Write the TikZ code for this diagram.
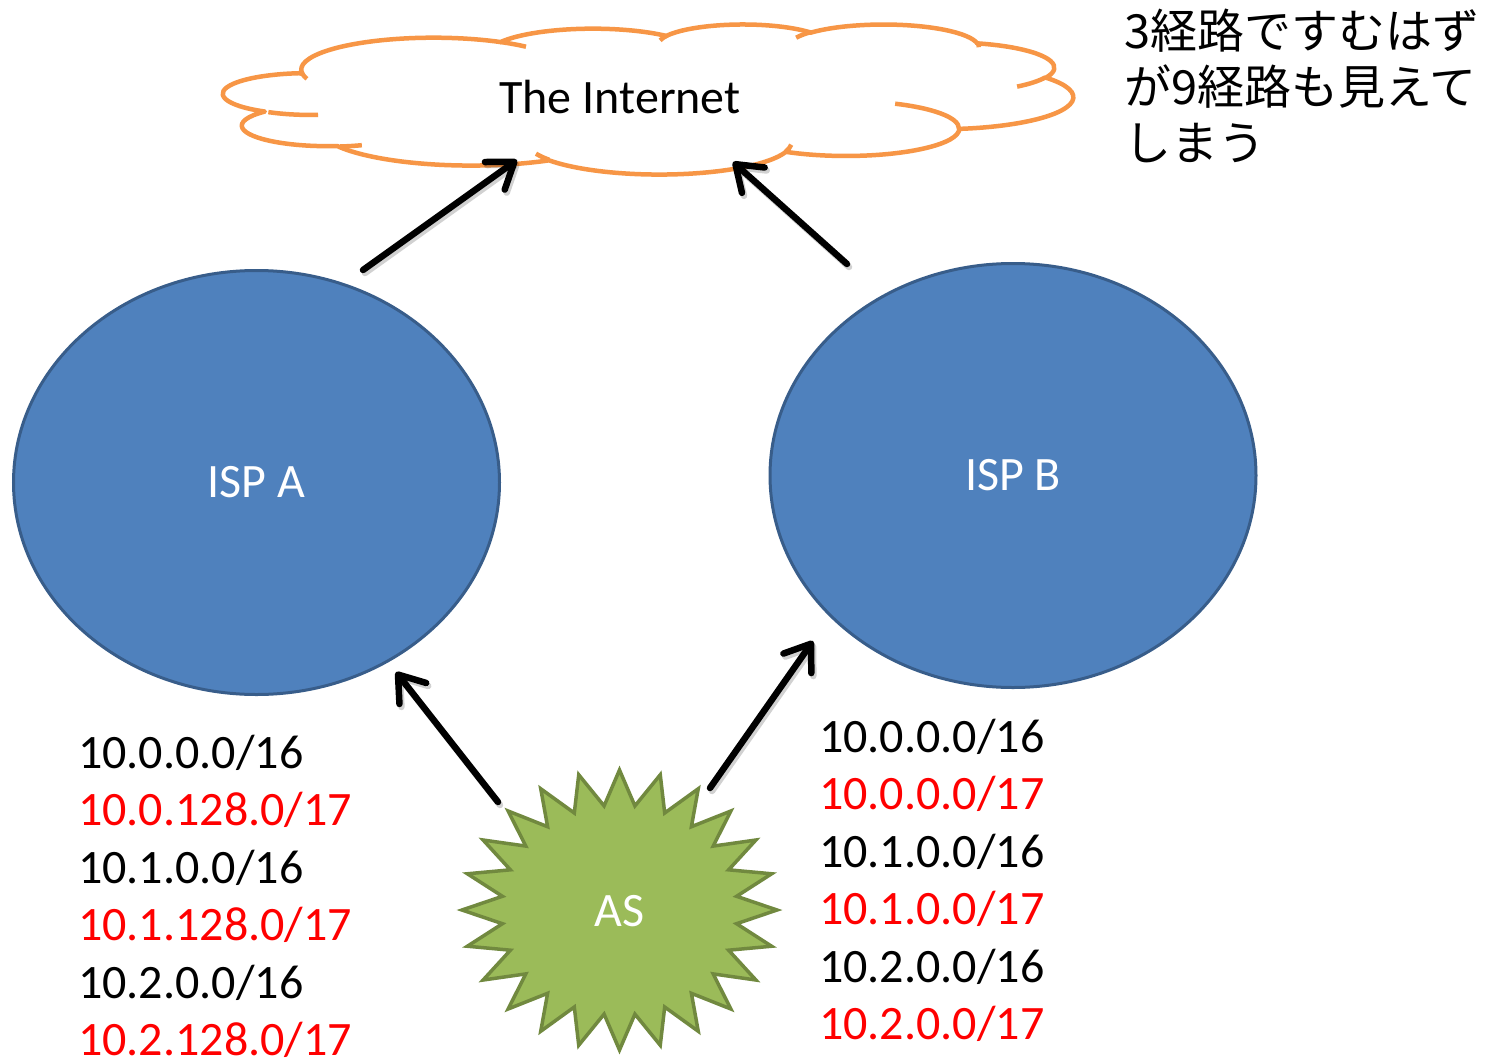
\documentclass[tikz,border=0pt]{standalone}
\usepackage{fontspec}
\setmainfont{Carlito}
\newfontfamily\jpfont{Noto Sans CJK JP}
\usetikzlibrary{arrows.meta,shapes.geometric}
\definecolor{cloudorange}{HTML}{F79646}
\definecolor{ispfill}{HTML}{4F81BD}
\definecolor{ispline}{HTML}{385D8A}
\definecolor{asfill}{HTML}{9BBB59}
\definecolor{asline}{HTML}{71893F}
\definecolor{routered}{HTML}{FF0000}
\newcommand\cldarc[4]{%
  \pgfmathsetmacro\cldtA{atan2((#1)*sin(#3),(#2)*cos(#3))}%
  \pgfmathsetmacro\cldtB{atan2((#1)*sin((#3)+(#4)),(#2)*cos((#3)+(#4)))}%
  \ifdim #4pt>0pt
    \ifdim\cldtB pt<\cldtA pt \pgfmathsetmacro\cldtB{\cldtB+360}\fi
  \else
    \ifdim\cldtB pt>\cldtA pt \pgfmathsetmacro\cldtB{\cldtB-360}\fi
  \fi
  \xdef\cldpath{\cldpath arc[start angle=\cldtA, end angle=\cldtB, x radius=#1, y radius=#2]}%
}
\newcommand\cldin[6]{%
  \pgfmathsetmacro\cldtA{atan2((#3)*sin(#5),(#4)*cos(#5))}%
  \pgfmathsetmacro\cldtB{atan2((#3)*sin((#5)+(#6)),(#4)*cos((#5)+(#6)))}%
  \ifdim\cldtB pt<\cldtA pt \pgfmathsetmacro\cldtB{\cldtB+360}\fi
  \xdef\cldinpath{\cldinpath (#1,#2) arc[start angle=\cldtA, end angle=\cldtB, x radius=#3, y radius=#4]}%
}
\tikzset{
  cloudline/.style={draw=cloudorange, line width=4.5pt, line join=round},
  isp/.style={ellipse, draw=ispline, fill=ispfill, line width=3pt,
    minimum width=486pt, minimum height=424pt, inner sep=0pt, text=white,
    font=\fontsize{48}{57}\selectfont},
  asstar/.style={draw=asline, fill=asfill, line width=3.5pt, line join=miter},
  label/.style={inner sep=0pt, font=\fontsize{48}{57}\selectfont},
  route/.style={anchor=base west, inner sep=0pt, font=\fontsize{48}{57}\selectfont},
  arr/.style={line width=6.5pt, line cap=round,
    -{Straight Barb[length=24pt, width=34pt, line cap=round, line join=round]}},
  arrshadow/.style={arr, draw=black, opacity=0.18},
}
\begin{document}
\begin{tikzpicture}[x=1pt, y=-1pt]
\useasboundingbox[fill=white] (0,0) rectangle (1489,1060);
% cloud
\begin{scope}[shift={(226pt,-24pt)}, x=1.96065pt, y=-0.347222pt]
  \gdef\cldpath{}
  \cldarc{67.53}{91.90}{-190.48748}{123.78053}
  \cldarc{53.33}{72.67}{-144.10238}{89.94523}
  \cldarc{43.65}{59.45}{-145.80792}{99.72302}
  \cldarc{48.57}{65.95}{-130.98607}{117.24173}
  \cldarc{53.33}{72.73}{-78.70888}{109.02692}
  \cldarc{67.75}{92.20}{-46.26725}{130.269}
  \cldarc{57.85}{78.67}{0.62502}{114.03333}
  \cldarc{67.52}{92.15}{22.4516}{115.17255}
  \cldarc{77.20}{105.43}{66.24263}{78.03695}
  \cldarc{43.60}{59.18}{-274.94208}{146.73557}
  \cldarc{43.45}{59.45}{-246.8285}{152.51885}
  \edef\cldtmp{\noexpand\draw[cloudline, fill=white] (39.00,143.70) \cldpath -- cycle;}
  \cldtmp
  \gdef\cldinpath{}
  \cldin{46.93}{261.77}{43.45}{59.45}{86.742}{26.4295}
  \cldin{69.28}{348.99}{43.60}{59.18}{73.61047}{11.44747}
  \cldin{164.78}{390.90}{67.52}{92.15}{137.62415}{14.0811}
  \cldin{288.27}{347.51}{67.52}{92.15}{6.45327}{15.99835}
  \cldin{341.29}{229.54}{57.85}{78.67}{-70.29235}{70.91737}
  \cldin{417.98}{153.54}{53.33}{72.73}{30.31803}{27.7515}
  \cldin{383.24}{54.26}{48.57}{65.95}{-13.74433}{14.8589}
  \cldin{290.78}{39.52}{48.57}{65.95}{-149.18145}{18.19537}
  \cldin{221.41}{47.20}{43.65}{59.45}{-163.49427}{17.84947}
  \cldin{140.00}{51.92}{67.53}{91.90}{-66.70695}{12.31935}
  \cldin{41.27}{157.89}{67.53}{91.90}{157.65435}{11.85817}
  \edef\cldtmp{\noexpand\draw[cloudline, line cap=butt] \cldinpath;}
  \cldtmp
\end{scope}
\node[label] (inet) at (620,97) {The Internet};

% ISPs
\node[isp] (ispA) at (256.5,482.5) {ISP A};
\node[isp] (ispB) at (1013,475.5) {ISP B};

% AS star
\begin{scope}[shift={(619.5pt,-910pt)}]
  \draw[asstar] (90:157.5 and 140)
    \foreach \i in {0,...,23}{ -- ({97.5+15*\i}:118.1 and 105) -- ({105+15*\i}:157.5 and 140)} -- cycle;
\end{scope}
\node[label, text=white] (as) at (619.5,911) {AS};

% arrows
\coordinate (aAout) at (363,270);
\coordinate (aAin) at (517,160);
\coordinate (aBout) at (847,264);
\coordinate (aBin) at (733,162);
\coordinate (asA) at (498,802);
\coordinate (ispAin) at (396,672);
\coordinate (asB) at (710,788);
\coordinate (ispBin) at (813,641);
\begin{scope}[transform canvas={shift={(2pt,-3pt)}}]
  \draw[arrshadow] (aAout) -- (aAin);
  \draw[arrshadow] (aBout) -- (aBin);
  \draw[arrshadow] (asA) -- (ispAin);
  \draw[arrshadow] (asB) -- (ispBin);
\end{scope}
\draw[arr] (aAout) -- (aAin);
\draw[arr] (aBout) -- (aBin);
\draw[arr] (asA) -- (ispAin);
\draw[arr] (asB) -- (ispBin);

% route lists
\node[route] (l1) at (78,768) {10.0.0.0/16};
\node[route, text=routered] (l2) at (78,825.5) {10.0.128.0/17};
\node[route] (l3) at (78,883) {10.1.0.0/16};
\node[route, text=routered] (l4) at (78,940.5) {10.1.128.0/17};
\node[route] (l5) at (78,998) {10.2.0.0/16};
\node[route, text=routered] (l6) at (78,1055) {10.2.128.0/17};

\node[route] (r1) at (819,752) {10.0.0.0/16};
\node[route, text=routered] (r2) at (819,809.5) {10.0.0.0/17};
\node[route] (r3) at (819,867) {10.1.0.0/16};
\node[route, text=routered] (r4) at (819,924.5) {10.1.0.0/17};
\node[route] (r5) at (819,982) {10.2.0.0/16};
\node[route, text=routered] (r6) at (819,1039.5) {10.2.0.0/17};

% note
\node[anchor=north west, align=left, inner sep=0pt,
  font=\jpfont\fontsize{47}{56}\selectfont] (note) at (1124,9)
  {3経路ですむはず\\が9経路も見えて\\しまう};
\end{tikzpicture}
\end{document}
